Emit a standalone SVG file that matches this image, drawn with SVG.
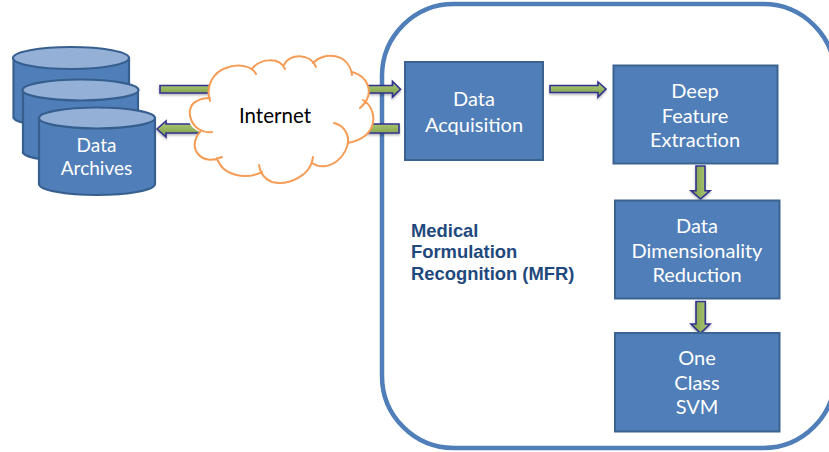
<svg xmlns="http://www.w3.org/2000/svg" width="829" height="452" viewBox="0 0 829 452">
<style>
.box{fill:#4f7eb8;stroke:#3a6390;stroke-width:2}
.body{fill:#4f7eb8;stroke:#365f8f;stroke-width:2.2}
.top{fill:#95b0d7;stroke:#365f8f;stroke-width:2.2}
.t{font-family:Lato,"Open Sans",sans-serif;font-size:20px;fill:#fff;text-anchor:middle}
.arrow{stroke:#33338f;stroke-width:1.6;stroke-linejoin:miter;filter:url(#sh)}
.h{fill:url(#gh)}
.v{fill:url(#gv)}
.m{font-family:"Liberation Sans",Arial,sans-serif;font-size:18.4px;font-weight:bold;fill:#1f497d}
</style>
<defs>
<linearGradient id="gh" x1="0" y1="0" x2="0" y2="1"><stop offset="0" stop-color="#b2cc78"/><stop offset="1" stop-color="#7a9c45"/></linearGradient>
<linearGradient id="gv" x1="0" y1="0" x2="1" y2="0"><stop offset="0" stop-color="#7a9c45"/><stop offset="1" stop-color="#b2cc78"/></linearGradient>
<filter id="sh" x="-20%" y="-40%" width="140%" height="200%"><feDropShadow dx="0" dy="1.5" stdDeviation="1" flood-color="#000" flood-opacity="0.3"/></filter>
</defs>
<rect width="829" height="452" fill="#fff"/>
<g id="mfr-container">
<rect x="382" y="4" width="453" height="444" rx="72" ry="72" fill="none" stroke="#4f7eb8" stroke-width="4.500"/>
</g>
<g id="connectors">
<path class="arrow h" d="M160 85.500H392.500V81.500L400.500 89.300L392.500 97V93H160Z"/>
<path class="arrow h" d="M399 124H166V121L157 129L166 137V133H399Z"/>
<path class="arrow h" d="M550 85.500H598V82L606 89L598 97V92.500H550Z"/>
<path class="arrow v" d="M696 166H705V190.700H710L700.500 199L691 190.700H696Z"/>
<path class="arrow v" d="M696 301.500H705.300V324H710L700.500 333.300L691 324H696Z"/>
</g>
<g id="data-archives">
<path class="body" d="M13.500 58V118A58 10.500 0 0 0 129 118V58Z"/>
<ellipse class="top" cx="71" cy="58" rx="58" ry="11"/>
<path class="body" d="M23 90V153A58 10.500 0 0 0 138 153V90Z"/>
<ellipse class="top" cx="80.500" cy="90" rx="58" ry="10.500"/>
<path class="body" d="M39 118V184A58 11 0 0 0 155 184V118Z"/>
<ellipse class="top" cx="97" cy="118" rx="58" ry="10.500"/>
<text class="t" x="96.500" y="152" style="font-size:19px">Data</text>
<text class="t" x="96.500" y="175" style="font-size:19px">Archives</text>
</g>
<g id="internet">
<path fill="#fff" d="M210 101C205 85 214 72 226 68C238 63 252 66 254 71C260 59 279 56 285 67C288 54 310 52 315 65C324 51 349 53 352 73C368 76 376 94 362 103C377 108 381 136 348 143C350 156 328 174 312 163C311 176 288 186 272 182C264 179 260 172 260 168C246 180 222 176 219 158C202 167 186 148 200 132C182 125 182 98 210 98Z"/>
<path fill="none" stroke="#f59d56" stroke-width="2" stroke-linecap="round" d="M210 101C205 85 214 72 226 68C238 63 252 66 256 74M252 69C259 59 279 56 285 69M284 65C288 54 310 52 316 67M313 63C324 51 349 53 352 75M352 72C368 76 376 94 360 108M363 100C377 108 381 136 348 143M348 143C349 132 342 125 334 123M348 137C350 156 328 174 312 163M313 157C311 176 288 186 272 182C264 179 260 172 259 165M262 172C246 180 222 176 217 158M222 157C202 167 186 148 200 132M212 132C192 135 182 108 197 101C202 98 206 98 210 98"/>
<text x="275" y="123" font-family="Lato,'Open Sans',sans-serif" font-size="20.500" fill="#000" text-anchor="middle">Internet</text>
</g>
<g id="data-acquisition">
<rect class="box" x="405" y="62" width="138" height="98"/>
<text class="t" x="474" y="106">Data</text>
<text class="t" x="474" y="131.500">Acquisition</text>
</g>
<g id="deep-feature-extraction">
<rect class="box" x="613.500" y="65.500" width="164" height="98"/>
<text class="t" x="695" y="98">Deep</text>
<text class="t" x="695" y="123">Feature</text>
<text class="t" x="695" y="147">Extraction</text>
</g>
<g id="data-dimensionality-reduction">
<rect class="box" x="615" y="200.500" width="164.500" height="98"/>
<text class="t" x="697" y="233">Data</text>
<text class="t" x="697" y="257.500">Dimensionality</text>
<text class="t" x="697" y="282">Reduction</text>
</g>
<g id="one-class-svm">
<rect class="box" x="615" y="333" width="164.500" height="98.500"/>
<text class="t" x="697" y="365">One</text>
<text class="t" x="697" y="390">Class</text>
<text class="t" x="697" y="414">SVM</text>
</g>
<g id="mfr-label">
<text class="m" x="411" y="237">Medical</text>
<text class="m" x="411" y="258">Formulation</text>
<text class="m" x="411" y="280">Recognition (MFR)</text>
</g>
</svg>
